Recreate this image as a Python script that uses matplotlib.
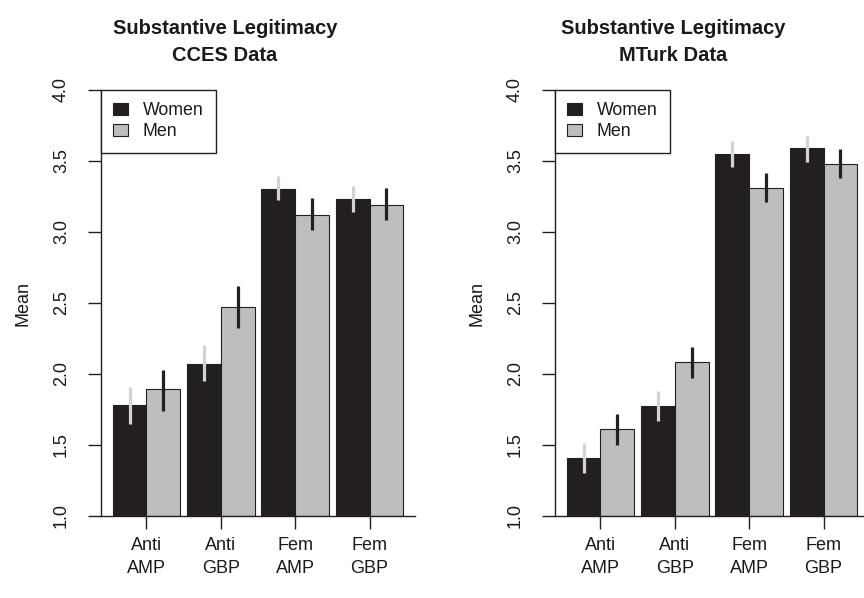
import matplotlib
matplotlib.use("Agg")
import matplotlib.pyplot as plt
from matplotlib.patches import Patch
import numpy as np

plt.rcParams['font.family'] = ['Liberation Sans', 'DejaVu Sans']

categories = ["Anti\nAMP", "Anti\nGBP", "Fem\nAMP", "Fem\nGBP"]
series_names = ["Women", "Men"]

cces_women = [1.78, 2.07, 3.30, 3.23]
cces_men = [1.89, 2.47, 3.12, 3.19]
cces_women_lo = [1.65, 1.95, 3.22, 3.14]
cces_women_hi = [1.91, 2.20, 3.39, 3.32]
cces_men_lo = [1.74, 2.32, 3.01, 3.08]
cces_men_hi = [2.03, 2.62, 3.235, 3.31]

mturk_women = [1.41, 1.775, 3.547, 3.587]
mturk_men = [1.61, 2.085, 3.31, 3.477]
mturk_women_lo = [1.30, 1.67, 3.455, 3.493]
mturk_women_hi = [1.51, 1.88, 3.64, 3.676]
mturk_men_lo = [1.50, 1.97, 3.21, 3.375]
mturk_men_hi = [1.72, 2.19, 3.41, 3.58]

titles = ["Substantive Legitimacy\nCCES Data", "Substantive Legitimacy\nMTurk Data"]
yticks = [1.0, 1.5, 2.0, 2.5, 3.0, 3.5, 4.0]
ytick_labels = ["1.0", "1.5", "2.0", "2.5", "3.0", "3.5", "4.0"]

dark = "#231f20"
grey = "#bcbec0"
err_light = "#d1d3d4"
txt = "#1a1a1a"

W, H = 864, 598
fig = plt.figure(figsize=(W / 100, H / 100), dpi=100)

panels = [
    (cces_women, cces_men, cces_women_lo, cces_women_hi, cces_men_lo, cces_men_hi),
    (mturk_women, mturk_men, mturk_women_lo, mturk_women_hi, mturk_men_lo, mturk_men_hi),
]
ax_left_px = [101, 555]
title_cx = [225, 673]
mean_cx = [23, 477]

for i, (wv, mv, wlo, whi, mlo, mhi) in enumerate(panels):
    ax = fig.add_axes([ax_left_px[i] / W, (H - 516) / H, 314 / W, 426.5 / H])
    n = len(categories)
    g = np.arange(n) * 2.2
    xw = 0.2 + g + 0.5
    xm = 1.2 + g + 0.5
    ax.bar(xw, np.array(wv) - 1, bottom=1, width=1.0, color=dark, edgecolor=dark, linewidth=0.8)
    ax.bar(xm, np.array(mv) - 1, bottom=1, width=1.0, color=grey, edgecolor=dark, linewidth=0.8)
    ax.vlines(xw, wlo, whi, colors=err_light, linewidth=2.3)
    ax.vlines(xm, mlo, mhi, colors=dark, linewidth=2.3)
    ax.set_xlim(-0.144, 9.144)
    ax.set_ylim(1, 4)
    for s in ["top", "right"]:
        ax.spines[s].set_visible(False)
    for s in ["left", "bottom"]:
        ax.spines[s].set_linewidth(1.0)
        ax.spines[s].set_color(dark)
    ax.set_xticks(1.2 + g)
    ax.set_xticklabels(categories, fontsize=13, linespacing=1.4, color=txt)
    ax.set_yticks(yticks)
    ax.set_yticklabels(ytick_labels, rotation=90, va="center", fontsize=13, color=txt)
    ax.tick_params(axis="both", length=9.4, width=1.0, color=dark)
    ax.tick_params(axis="y", pad=13)
    ax.tick_params(axis="x", pad=6)
    handles = [Patch(facecolor=dark, edgecolor=dark, linewidth=0.8),
               Patch(facecolor=grey, edgecolor=dark, linewidth=0.8)]
    leg = ax.legend(handles, series_names, loc="upper left", bbox_to_anchor=(0, 1),
                    borderaxespad=0, fancybox=False, framealpha=1, edgecolor=dark,
                    fontsize=12.8, borderpad=0.7, labelspacing=0.25, handlelength=0.8,
                    handleheight=0.7, handletextpad=0.85)
    leg.get_frame().set_linewidth(1.0)
    for t in leg.get_texts():
        t.set_color(txt)
    fig.text(title_cx[i] / W, 1 - 42 / H, titles[i], ha="center", va="center",
             fontsize=14.5, fontweight="bold", linespacing=1.55, color=txt)
    fig.text(mean_cx[i] / W, (H - 303) / H, "Mean", rotation=90, ha="center", va="center",
             fontsize=13, color=txt)

fig.savefig("out.png", dpi=100)
